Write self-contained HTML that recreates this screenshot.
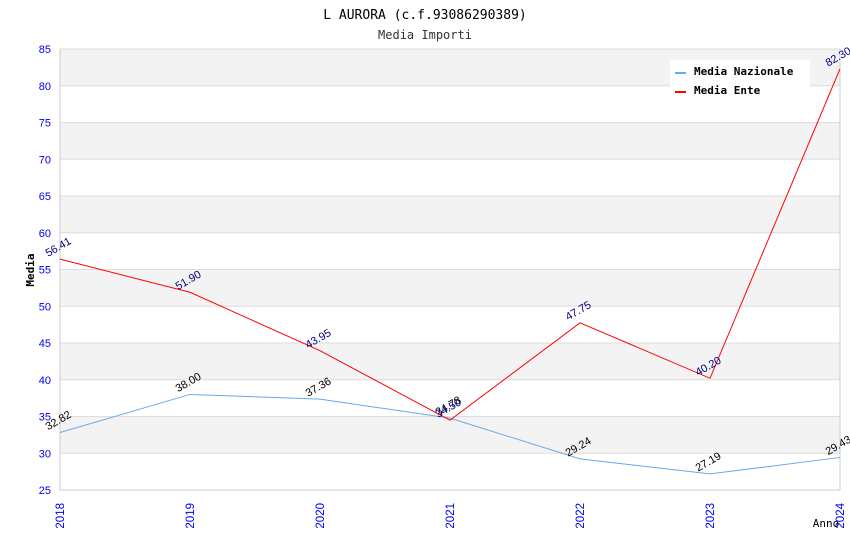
<!DOCTYPE html>
<html><head><meta charset="utf-8"><style>
body{margin:0;background:#fff}
svg{font-family:"DejaVu Sans Mono","Liberation Mono",monospace}
.s{font-family:"Liberation Sans",Arial,sans-serif}
</style></head><body>
<svg id="chart" width="850" height="550" xmlns="http://www.w3.org/2000/svg">
<text x="425" y="19" text-anchor="middle" font-size="13" fill="#000">L AURORA (c.f.93086290389)</text>
<text x="425" y="39" text-anchor="middle" font-size="12" fill="#333">Media Importi</text>
<g id="bands"></g><g id="grid"></g><g id="axes"></g><g id="series"></g>
<text x="34" y="270" text-anchor="middle" font-size="11" font-weight="bold" transform="rotate(-90 34 270)">Media</text>
<text x="826" y="527" text-anchor="middle" font-size="11">Anno</text>
<g>
<rect x="670" y="60" width="140" height="40" fill="#fff"/>
<g><rect x="675" y="72" width="11" height="2" fill="#66aaee"/><text x="694" y="75" font-size="11" font-weight="bold">Media Nazionale</text></g>
<g><rect x="675" y="91" width="11" height="2" fill="#ff0000"/><text x="694" y="94" font-size="11" font-weight="bold">Media Ente</text></g>
</g>
</svg>
<script>
const years=["2018","2019","2020","2021","2022","2023","2024"];
const nazionale=[32.82,38.00,37.36,34.78,29.24,27.19,29.43];
const ente=[56.41,51.90,43.95,34.50,47.75,40.20,82.30];
const yTicks=[25,30,35,40,45,50,55,60,65,70,75,80,85];
const NS="http://www.w3.org/2000/svg";
const x0=60,x1=840,y0=490,y1=49,vmin=25,vmax=85;
const X=i=>x0+i*(x1-x0)/(years.length-1);
const Y=v=>y0-(v-vmin)*(y0-y1)/(vmax-vmin);
function mk(tag,attrs,parent){const e=document.createElementNS(NS,tag);for(const k in attrs)e.setAttribute(k,attrs[k]);document.getElementById(parent).appendChild(e);return e;}
for(let i=0;i<yTicks.length-1;i++){
  if(i%2===1){const r=mk('rect',{x:x0,y:Y(yTicks[i+1]),width:x1-x0,height:Y(yTicks[i])-Y(yTicks[i+1]),fill:'#f3f3f3'},'bands');
  
  }
}
yTicks.forEach(t=>{
  const l=mk('line',{x1:x0,x2:x1,y1:Y(t),y2:Y(t),stroke:'#dddddd'},'grid');
  
  
  const tx=mk('text',{x:51,y:Y(t)+4,'text-anchor':'end','font-size':11,fill:'#0000ee',class:'s'},'axes');tx.textContent=t;
  
  
});
mk('line',{x1:x0,x2:x0,y1:y1,y2:y0,stroke:'#ccc'},'axes');
mk('line',{x1:x1,x2:x1,y1:y1,y2:y0,stroke:'#ccc'},'axes');
mk('line',{x1:x0,x2:x1,y1:y0,y2:y0,stroke:'#ccc'},'axes');
years.forEach((y,i)=>{
  const tx=mk('text',{x:X(i)+4,y:503,'text-anchor':'end','font-size':11.5,fill:'#0000ee',class:'s',transform:`rotate(-90 ${X(i)+4} 503)`},'axes');
  tx.textContent=y;
  
  
});
function series(vals,color,labelColor,name){
  const p=mk('polyline',{points:vals.map((v,i)=>X(i)+','+Y(v)).join(' '),fill:'none',stroke:color,'stroke-width':1},'series');
  
  
  vals.forEach((v,i)=>{
    const ly=Y(v)-9;
    const tx=mk('text',{x:X(i),y:ly,'text-anchor':'middle','font-size':11,fill:labelColor,class:'s',transform:`rotate(-30 ${X(i)} ${ly})`},'series');
    tx.textContent=v.toFixed(2);
    
    
  });
}
series(nazionale,'#66aaee','#000','line-nazionale');
series(ente,'#ff0000','#000080','line-ente');
</script>
</body></html>
